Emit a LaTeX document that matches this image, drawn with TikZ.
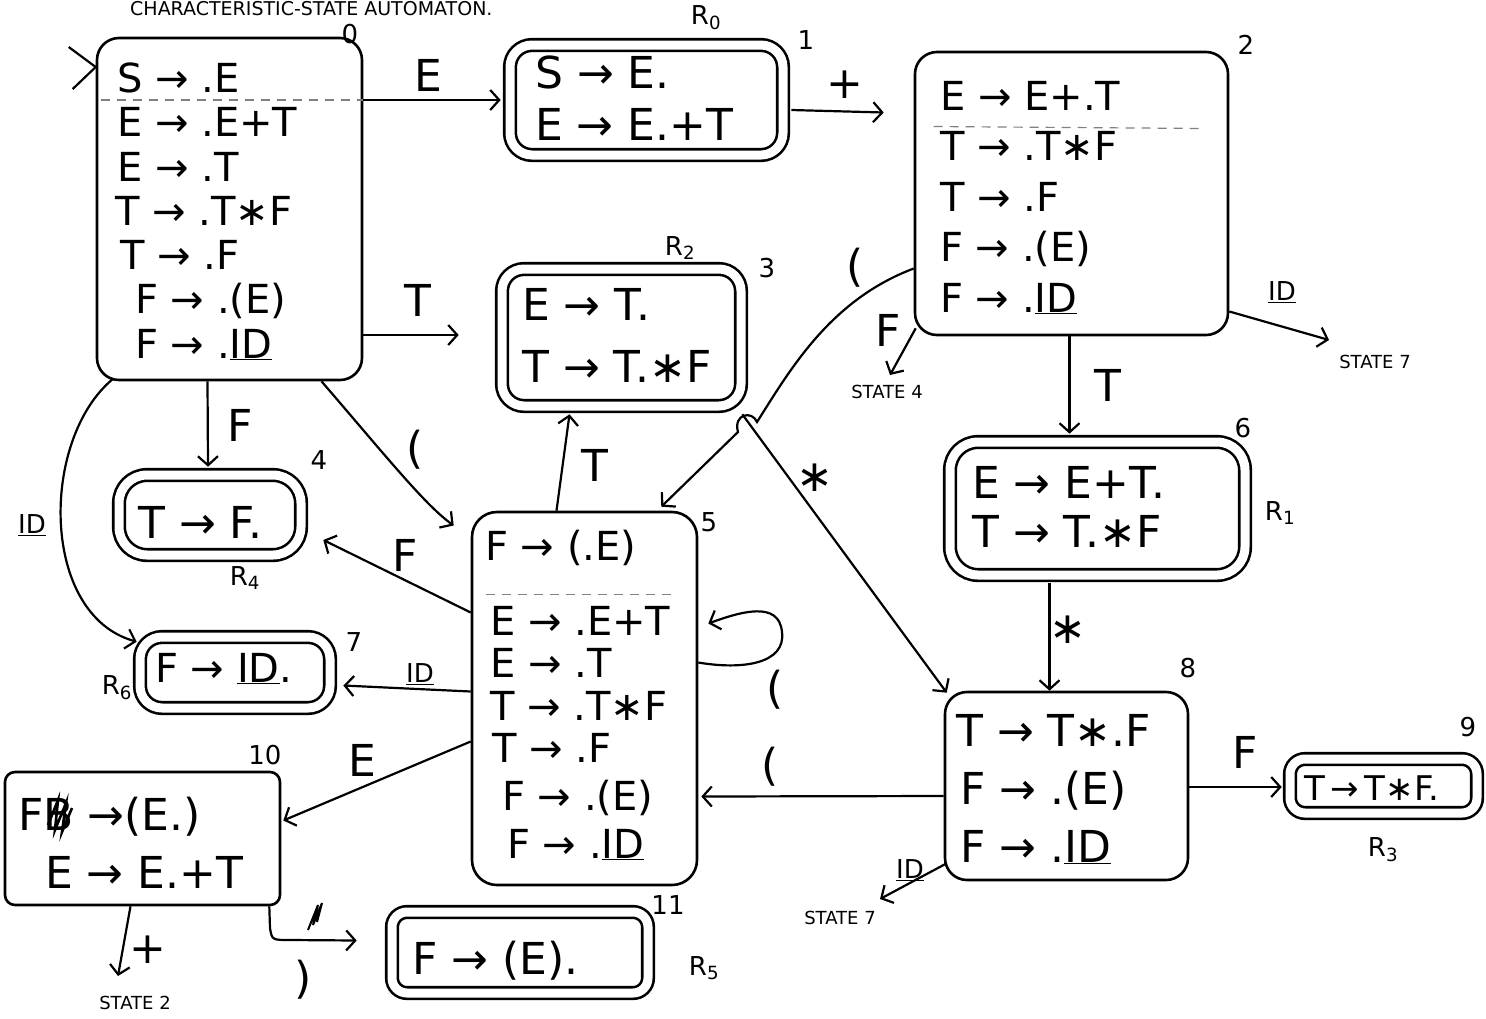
\documentclass[tikz,border=0pt]{standalone}
\usepackage{fontspec}
\setmainfont{DejaVu Sans}
\usetikzlibrary{arrows.meta,calc}
\begin{document}
\begin{tikzpicture}[x=1pt,y=-1pt,
  box/.style={draw, line width=2.6pt, rounded corners=22pt, inner sep=0pt},
  acc/.style={box, double, double distance=9pt},
  row/.style={anchor=base west, inner sep=0pt, font=\fontsize{40}{48}\selectfont},
  bigrow/.style={row, font=\fontsize{44}{52}\selectfont},
  lab/.style={inner sep=0pt, font=\fontsize{44}{52}\selectfont},
  idlab/.style={inner sep=0pt, font=\fontsize{26}{30}\selectfont},
  num/.style={inner sep=0pt, font=\fontsize{26}{30}\selectfont},
  small/.style={inner sep=0pt, font=\fontsize{18}{20}\selectfont},
  con/.style={line width=2.2pt, ->, >={Straight Barb[length=9pt,width=20pt]}},
  plain/.style={line width=2.2pt},
  sep/.style={line width=1.2pt, gray, dash pattern=on 9pt off 7pt},
]
\fill[white] (0,0) rectangle (1486,1018);
\useasboundingbox (0,0) rectangle (1486,1018);

% title
\node[anchor=base west, inner sep=0pt, font=\fontsize{19}{21}\selectfont] (title) at (130,15) {CHARACTERISTIC-STATE AUTOMATON.};

% ---------- states ----------
\node[box, minimum width=265pt, minimum height=342pt] (s0) at (229.5,209) {};
\node[acc, minimum width=273pt, minimum height=110pt] (s1) at (646.5,100) {};
\node[box, minimum width=313pt, minimum height=283pt] (s2) at (1071.5,193.5) {};
\node[acc, minimum width=239pt, minimum height=137pt] (s3) at (621.5,337.5) {};
\node[acc, minimum width=182pt, minimum height=80pt, rounded corners=28pt] (s4) at (210,515) {};
\node[box, minimum width=225pt, minimum height=373pt, rounded corners=25pt] (s5) at (584.5,698.5) {};
\node[acc, minimum width=295pt, minimum height=133pt, rounded corners=28pt] (s6) at (1097.5,508.5) {};
\node[acc, minimum width=190pt, minimum height=71pt] (s7) at (235,672.5) {};
\node[box, minimum width=243pt, minimum height=188pt] (s8) at (1066.5,786) {};
\node[acc, minimum width=187pt, minimum height=54pt, rounded corners=15pt] (s9) at (1383.5,786) {};
\node[box, minimum width=275pt, minimum height=133pt, rounded corners=10pt] (s10) at (142.5,838.5) {};
\node[acc, minimum width=256pt, minimum height=81pt, rounded corners=15pt] (s11) at (520,952.5) {};

% ---------- item texts ----------
\node[row] (s0a) at (117,92) {S → .E};
\node[row] (s0b) at (117,136) {E → .E+T};
\node[row] (s0c) at (117,181) {E → .T};
\node[row] (s0d) at (115,225) {T → .T∗F};
\node[row] (s0e) at (120,269) {T → .F};
\node[row] (s0f) at (135,313) {F → .(E)};
\node[row] (s0g) at (135,358) {F → .\underline{ID}};
\draw[sep] ($(s0.west)+(5,-109)$) -- ($(s0.east)+(0,-109)$);

\node[bigrow] (s1a) at (535,88) {S → E.};
\node[bigrow] (s1b) at (535,140) {E → E.+T};

\node[row] (s2a) at (940,110) {E → E+.T};
\node[row] (s2b) at (940,160) {T → .T∗F};
\node[row] (s2c) at (940,211) {T → .F};
\node[row] (s2d) at (940,261) {F → .(E)};
\node[row] (s2e) at (940,312) {F → .\underline{ID}};
\draw[sep] ($(s2.west)+(20,-67)$) -- ($(s2.east)+(-25,-65)$);

\node[bigrow] (s3a) at (522,320) {E → T.};
\node[bigrow] (s3b) at (522,382) {T → T.∗F};

\node[bigrow] (s4a) at (138,538) {T → F.};

\node[row] (s5a) at (485,560) {F → (.E)};
\draw[sep] ($(s5.west)+(15,-104)$) -- ($(s5.east)+(-25,-104)$);
\node[row] (s5b) at (490,635) {E → .E+T};
\node[row] (s5c) at (490,677) {E → .T};
\node[row] (s5d) at (490,720) {T → .T∗F};
\node[row] (s5e) at (492,762) {T → .F};
\node[row] (s5f) at (502,810) {F → .(E)};
\node[row] (s5g) at (507,858) {F → .\underline{ID}};

\node[bigrow] (s6a) at (972,498) {E → E+T.};
\node[bigrow] (s6b) at (972,547) {T → T.∗F};

\node[row] (s7a) at (155,682) {F → \underline{ID}.};

\node[bigrow] (s8a) at (956,746) {T → T∗.F};
\node[bigrow] (s8b) at (960,804) {F → .(E)};
\node[bigrow] (s8c) at (960,862) {F → .\underline{ID}};

\node[row, font=\fontsize{34}{40}\selectfont] (s9a) at (1304,800) {T\,→\,T∗F.};

\node[bigrow] (s10a) at (18,830) {FB →(E.)};
\draw[line width=2.6pt] (48,825) -- (58,800) -- (55,830) -- (66,803) -- (62,832) -- (72,808);
\node[bigrow] (s10b) at (45,888) {E → E.+T};

\node[bigrow] (s11a) at (412,974) {F → (E).};

% ---------- state numbers / reduce labels ----------
\node[num] (n0) at (350,34) {0};
\node[num] (r0) at (706,18) {R\textsubscript{0}};
\node[num] (n1) at (806,40) {1};
\node[num] (n2) at (1246,45) {2};
\node[num] (r2) at (680,248) {R\textsubscript{2}};
\node[num] (n3) at (767,268) {3};
\node[num] (n4) at (319,460) {4};
\node[num] (r4) at (245,578) {R\textsubscript{4}};
\node[num] (n5) at (709,522) {5};
\node[num] (n6) at (1243,428) {6};
\node[num] (r1) at (1280,513) {R\textsubscript{1}};
\node[num] (n7) at (354,642) {7};
\node[num] (r6) at (117,688) {R\textsubscript{6}};
\node[num] (n8) at (1188,668) {8};
\node[num] (n9) at (1468,727) {9};
\node[num] (r3) at (1383,850) {R\textsubscript{3}};
\node[num] (n10) at (265,755) {10};
\node[num] (n11) at (668,905) {11};
\node[num] (r5) at (704,968) {R\textsubscript{5}};

% ---------- start mark ----------
\draw[plain] ($(s0.west)+(-27,-162)$) -- ($(s0.west)+(0,-142)$) -- ($(s0.west)+(-23,-120)$);

% ---------- edges ----------
\draw[con] ($(s0.east)+(0,-109)$) -- ($(s1.west)+(-8,0)$);
\node[lab] (lE01) at (428,75) {E};

\draw[con] ($(s1.east)+(7,10)$) -- ($(s2.west)+(-30,-81)$);
\node[lab] (l12) at (845,85) {+};

\draw[con] ($(s0.east)+(0,126)$) -- ($(s3.west)+(-42,-2.5)$);
\node[lab] (lT03) at (418,300) {T};

\draw[con] ($(s0.south)+(-22,0)$) -- ($(s4.north)+(-2,-7)$);
\node[lab] (lF04) at (240,425) {F};

\draw[con] ($(s0.south)+(92,0)$) .. controls (385,455) and (425,505) .. ($(s5.west)+(-17,-173)$);
\node[lab] (lp05) at (415,450) {(};

\draw[con] ($(s0.south)+(-117,-2)$) .. controls (40,440) and (40,615) .. ($(s7.north west)+(-2,6)$);
\node[idlab] (lID07) at (32,525) {\underline{ID}};

\node[small] (st4) at (887,392) {STATE 4};
\draw[con] ($(s2.south west)+(2,-8)$) -- ($(st4.north)+(3,-10)$);
\node[lab] (lF24) at (888,330) {F};

\node[small] (st7a) at (1375,362) {STATE 7};
\draw[con] ($(s2.east)+(0,118)$) -- ($(st7a.west)+(-10,-22)$);
\node[idlab] (lID27) at (1282,292) {\underline{ID}};

\draw[con] ($(s2.west)+(0,75)$) .. controls (830,300) and (790,370) .. (757,422)
   .. controls (752,410) and (733,414) .. (738,432) -- ($(s5.north east)+(-37,-4)$);
\node[lab] (lp25) at (855,268) {(};

\draw[con] ($(s2.south)+(-2,0)$) -- ($(s6.north)+(-28,-7)$);
\node[lab] (lT26) at (1108,385) {T};

\draw[con] ($(s3.south east)+(0,7)$) -- ($(s8.north west)+(3,2)$);
\node[lab] (ls38) at (815,478) {∗};

\draw[con] ($(s5.north)+(-28,0)$) -- ($(s3.south)+(-52,7)$);
\node[lab] (lT53) at (595,465) {T};

\draw[con] ($(s5.west)+(0,-86)$) -- ($(s4.east)+(21,25)$);
\node[lab] (lF54) at (405,555) {F};

\draw[con] ($(s5.west)+(0,-7)$) -- ($(s7.east)+(12,13)$);
\node[idlab] (lID57) at (420,674) {\underline{ID}};

\draw[con] ($(s5.east)+(0,-36)$) .. controls (742,670) and (786,664) .. (782,632)
   .. controls (779,600) and (740,612) .. ($(s5.east)+(10,-75)$);
\node[lab] (lp55) at (775,690) {(};

\draw[con] ($(s8.west)+(0,10)$) -- ($(s5.east)+(3,98)$);
\node[lab] (lp85) at (770,767) {(};

\draw[con] ($(s5.west)+(0,43)$) -- ($(s10.east)+(2,-18)$);
\node[lab] (lE510) at (362,760) {E};

\draw[con] ($(s6.south)+(-48,7)$) -- ($(s8.north)+(-17,0)$);
\node[lab] (ls68) at (1068,630) {∗};

\draw[con] ($(s8.east)+(0,1)$) -- ($(s9.west)+(-7,1)$);
\node[lab] (lF89) at (1245,752) {F};

\node[small] (st7b) at (840,918) {STATE 7};
\draw[con] ($(s8.south west)+(3,-18)$) -- ($(st7b.north)+(40,-12)$);
\node[idlab] (lID87) at (910,870) {\underline{ID}};

\node[small] (st2) at (135,1003) {STATE 2};
\draw[con] ($(s10.south)+(-12,0)$) -- ($(st2.north)+(-17,-20)$);
\node[lab] (l102) at (148,950) {+};

\draw[con] ($(s10.south east)+(-12,0)$) -- (270,928) .. controls (272,940) .. (290,940) -- ($(s11.west)+(-34,-12)$);
\draw[line width=2pt] (308,930) -- (318,905) -- (313,925) -- (322,903) -- (317,922);
\node[lab] (lpar1011) at (303,980) {)};

\end{tikzpicture}
\end{document}
